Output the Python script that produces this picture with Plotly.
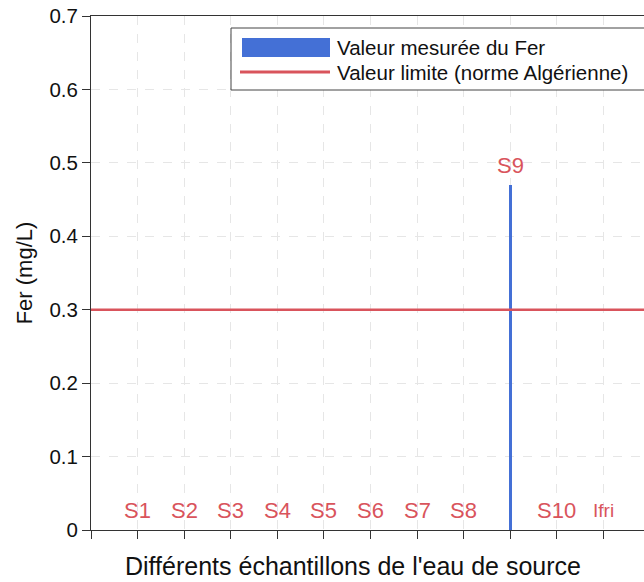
import plotly.graph_objects as go

# Samples of spring water and measured iron content (mg/L)
samples = ["S1", "S2", "S3", "S4", "S5", "S6", "S7", "S8", "S9", "S10", "Ifri"]
positions = [1, 2, 3, 4, 5, 6, 7, 8, 9, 10, 11]
fer_mesure = [0, 0, 0, 0, 0, 0, 0, 0, 0.47, 0, 0]
limite_algerienne = 0.3

y_ticks = [0, 0.1, 0.2, 0.3, 0.4, 0.5, 0.6, 0.7]
y_tick_text = ["0", "0.1", "0.2", "0.3", "0.4", "0.5", "0.6", "0.7"]
x_ticks = [0, 1, 2, 3, 4, 5, 6, 7, 8, 9, 10, 11]

BLUE = "#4470d6"
RED = "#d9545c"
FONT = "Liberation Sans, Arial, sans-serif"
X_MAX = 11.87

fig = go.Figure()

fig.add_trace(go.Bar(
    x=positions, y=fer_mesure, width=0.065,
    marker=dict(color=BLUE, line=dict(width=0)),
    name="Valeur mesurée du Fer", showlegend=False,
))

fig.add_trace(go.Scatter(
    x=[0, X_MAX], y=[limite_algerienne, limite_algerienne],
    mode="lines", line=dict(color=RED, width=2.5),
    name="Valeur limite (norme Algérienne)", showlegend=False,
))

# sample names written just above each bar
for xp, val, name in zip(positions, fer_mesure, samples):
    fig.add_annotation(
        x=xp, y=val + 0.026, text=name, showarrow=False,
        font=dict(family=FONT, size=19 if name == "Ifri" else 22, color=RED),
        xanchor="center", yanchor="middle",
    )

# legend box drawn by hand (wide swatches)
fig.add_shape(type="rect", xref="paper", yref="paper",
              x0=(231 - 91) / 553, x1=1.02, y0=1 - (90 - 16) / 514, y1=1 - (28 - 16) / 514,
              line=dict(color="#444444", width=1), fillcolor="white", layer="above")
fig.add_shape(type="rect", xref="paper", yref="paper",
              x0=(242 - 91) / 553, x1=(330 - 91) / 553,
              y0=1 - (57 - 16) / 514, y1=1 - (38 - 16) / 514,
              line=dict(width=0), fillcolor=BLUE, layer="above")
fig.add_shape(type="line", xref="paper", yref="paper",
              x0=(240 - 91) / 553, x1=(330 - 91) / 553,
              y0=1 - (72 - 16) / 514, y1=1 - (72 - 16) / 514,
              line=dict(color=RED, width=3), layer="above")
for label, ypix in [("Valeur mesurée du Fer", 47), ("Valeur limite (norme Algérienne)", 72)]:
    fig.add_annotation(xref="paper", yref="paper",
                       x=(335 - 91) / 553, y=1 - (ypix - 16) / 514,
                       text=label, showarrow=False, xanchor="left", yanchor="middle",
                       font=dict(family=FONT, size=20.5, color="#111111"))

# x-axis title
fig.add_annotation(xref="paper", yref="paper", x=(353 - 91) / 553, y=-(566 - 530) / 514,
                   text="Différents échantillons de l'eau de source", showarrow=False,
                   xanchor="center", yanchor="middle",
                   font=dict(family=FONT, size=25, color="#111111"))

fig.update_layout(
    width=644, height=582,
    margin=dict(l=91, r=0, t=16, b=52),
    paper_bgcolor="white", plot_bgcolor="white",
    font=dict(family=FONT, color="#111111"),
    bargap=0,
    xaxis=dict(
        range=[0, X_MAX], tickvals=x_ticks, showticklabels=False,
        ticks="outside", ticklen=8, tickcolor="#333333",
        showline=True, linecolor="#333333", linewidth=1, mirror=True,
        showgrid=True, gridcolor="#e6e6e6", griddash="dash", gridwidth=1,
        zeroline=False,
    ),
    yaxis=dict(
        range=[0, 0.7], tickvals=y_ticks, ticktext=y_tick_text,
        ticks="outside", ticklen=8, tickcolor="#333333",
        tickfont=dict(family=FONT, size=20.5, color="#111111"),
        showline=True, linecolor="#333333", linewidth=1,
        showgrid=True, gridcolor="#e6e6e6", griddash="dash", gridwidth=1,
        zeroline=False,
        title=dict(text="Fer (mg/L)", font=dict(family=FONT, size=22, color="#111111"), standoff=10),
    ),
)

fig.write_html("out.html")
